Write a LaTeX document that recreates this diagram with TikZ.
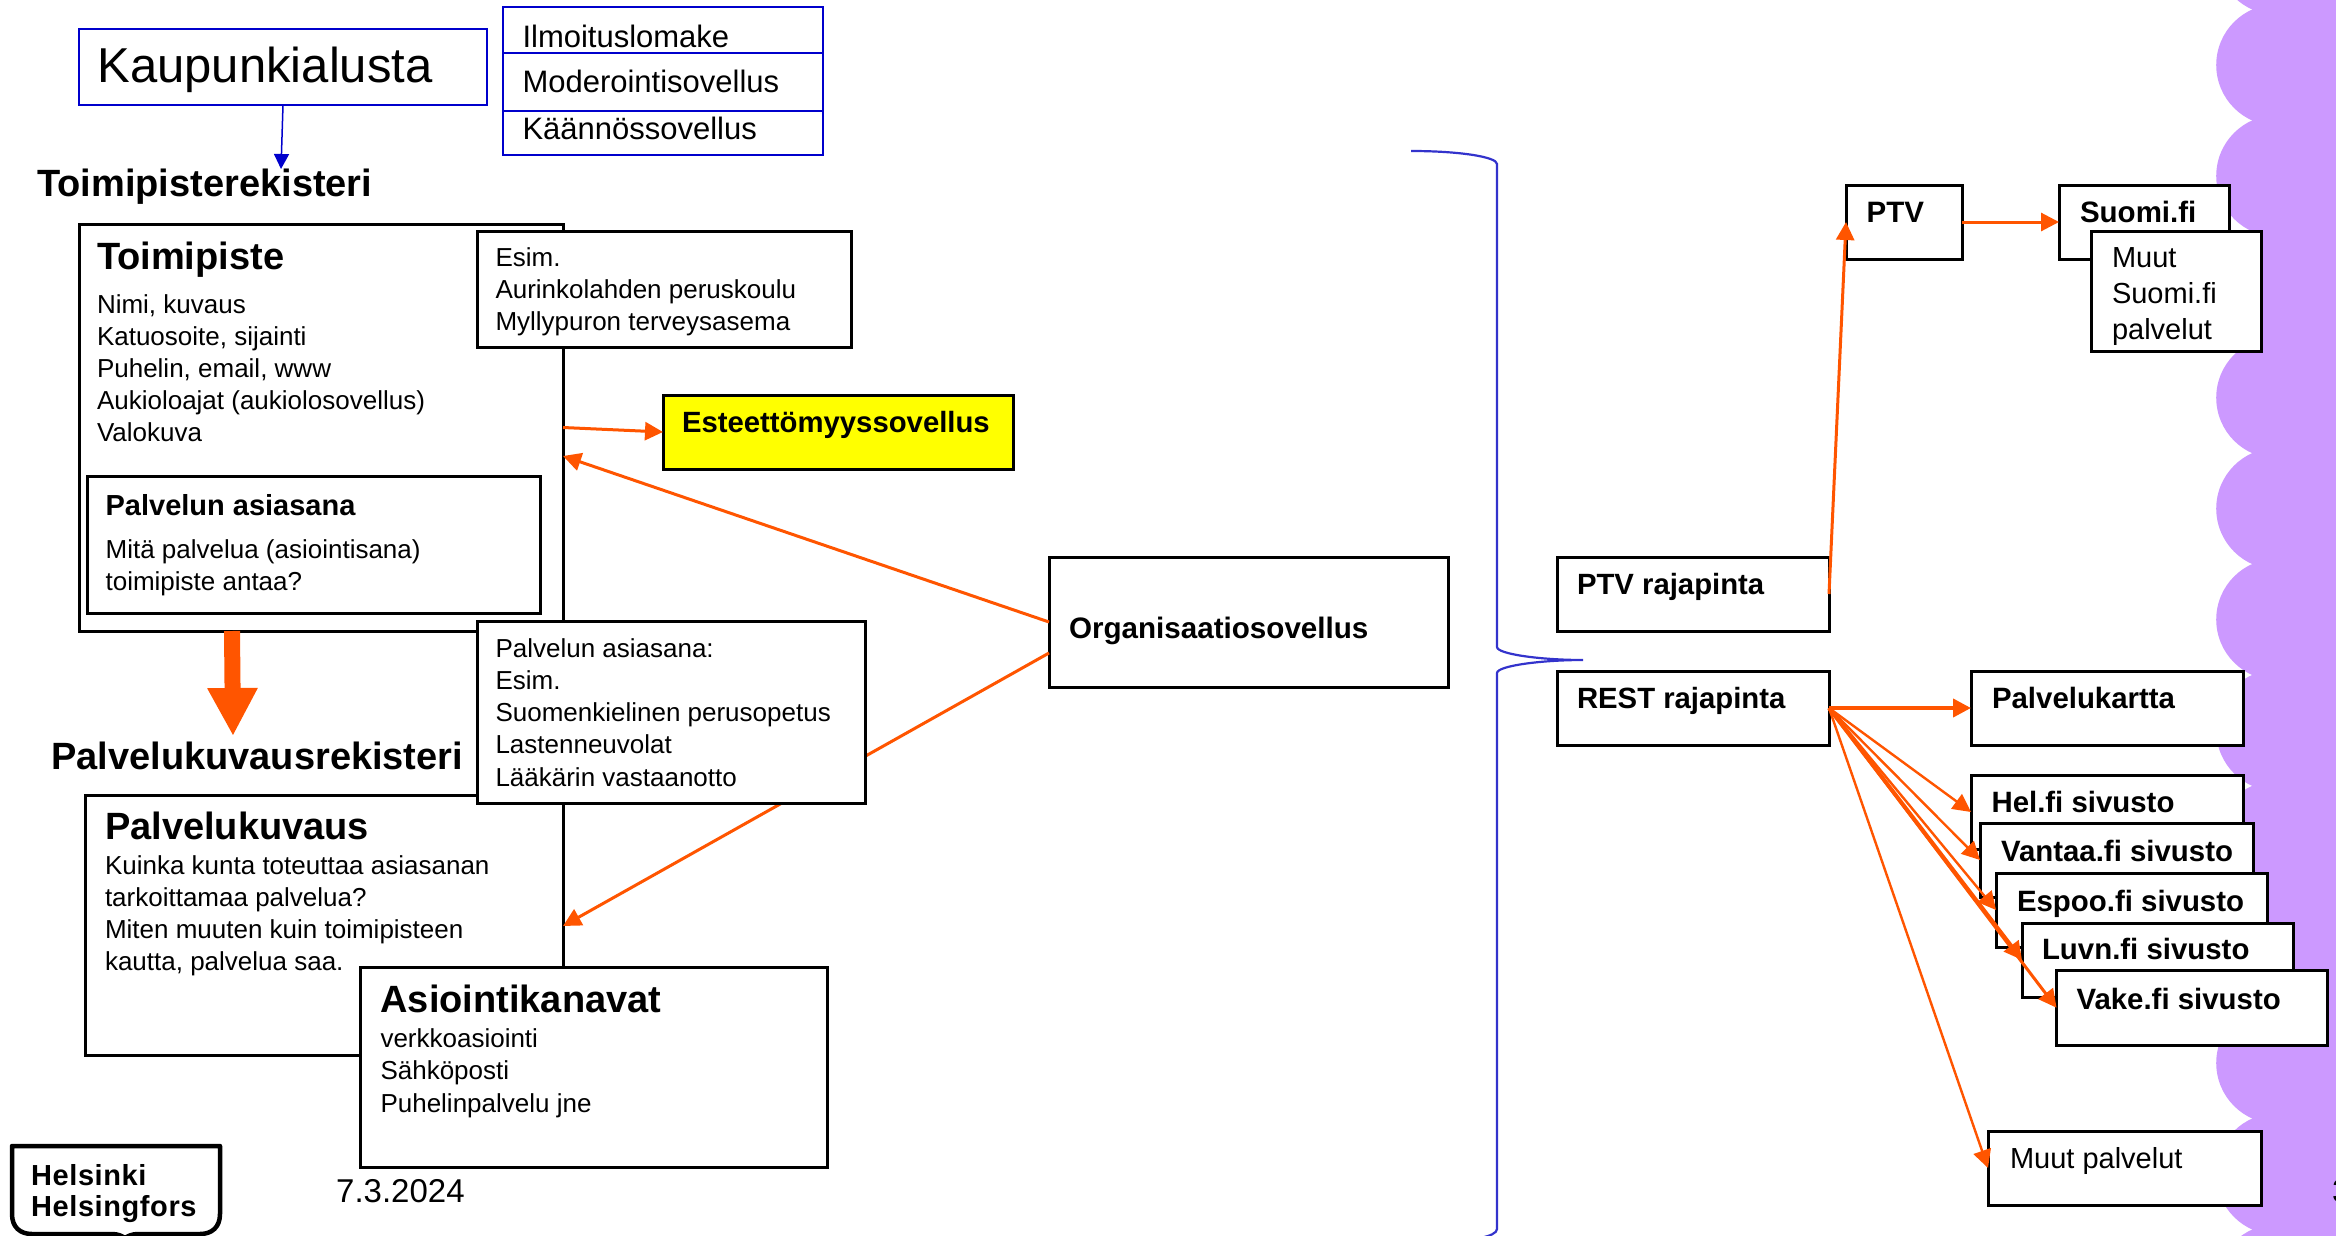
\documentclass[tikz,border=0pt]{standalone}
\usepackage{fontspec}
\setmainfont{Liberation Sans}
\newfontfamily\logofont[LetterSpace=2]{Liberation Sans}
\usetikzlibrary{arrows.meta,calc}
\definecolor{oline}{HTML}{FF5500}
\definecolor{bline}{HTML}{0000CC}
\definecolor{bracec}{HTML}{3333CC}
\definecolor{lilac}{HTML}{CC99FF}
\definecolor{hiyellow}{HTML}{FFFF00}
\newcommand\fs[2]{\fontsize{#1pt}{#2pt}\selectfont}
% width, height, left padding, first baseline below top, content
\newcommand\bxc[5]{\parbox[c][#2pt][t]{#1pt}{\raggedright\leftskip=#3pt\relax\rule{0pt}{#4pt}#5}}
\tikzset{
  box/.style={draw=black,line width=3pt,fill=white,inner sep=0pt,outer sep=0pt,anchor=north west},
  bluebox/.style={box,draw=bline,line width=2.5pt},
  head/.style={inner sep=0pt,anchor=base west,font=\fs{38}{44}\bfseries},
  free/.style={inner sep=0pt,anchor=base west},
  arr/.style={draw=oline,line width=3pt,-{Triangle[length=18pt,width=18pt,fill=oline]}},
  thinarr/.style={arr,line width=2.4pt},
  thickarr/.style={arr,line width=4pt},
  blarr/.style={draw=bline,line width=1.5pt,-{Triangle[length=15pt,width=15pt,fill=bline]}},
  bigarr/.style={draw=oline,line width=16pt,-{Triangle[length=48pt,width=47pt,fill=oline]}},
  bracel/.style={draw=bracec,line width=2.2pt}
}
\begin{document}
\begin{tikzpicture}[x=1pt,y=-1pt]
\useasboundingbox (0,0) rectangle (2336,1236);
% lilac scalloped band
\fill[lilac] (2252,0) rectangle (2336,1236);
\foreach \yy in {-46,65,175.9,286.8,397.7,508.6,619.5,730.4,841.3,952.2,1063,1174,1285}
  \fill[lilac] (2277,\yy) circle (60.8);
% brace
\draw[bracel] (1411,151) .. controls (1460,151) and (1497,157) .. (1497,164) -- (1497,647)
  .. controls (1497,654) and (1540,660) .. (1583,660)
  .. controls (1540,660) and (1497,666) .. (1497,673) -- (1497,1229)
  .. controls (1497,1233) and (1490,1236) .. (1480,1238);
% top left
\node[bluebox] (kaup) at (79,29) {\bxc{408}{76}{18.5}{54}{\fs{49}{54}Kaupunkialusta}};
\node[bluebox] (ilm) at (503,7) {\bxc{320}{46}{19.5}{41}{\fs{31}{36}Ilmoituslomake}};
\node[bluebox] (mod) at (503,53) {\bxc{320}{58}{19.5}{40}{\fs{31}{36}Moderointisovellus}};
\node[bluebox] (kaan) at (503,111) {\bxc{320}{44}{19.5}{28.5}{\fs{31}{36}Käännössovellus}};
% Toimipiste
\node[box] (toimi) at (79,224) {\bxc{484}{407}{18}{45.5}{{\fs{38}{38}\bfseries Toimipiste\par}\fs{26}{32}\vspace{11.5pt}Nimi, kuvaus\\Katuosoite, sijainti\\Puhelin, email, www\\Aukioloajat (aukiolosovellus)\\Valokuva}};
\node[box] (asia) at (87,476) {\bxc{453}{137}{18.6}{39}{{\fs{29}{30}\bfseries Palvelun asiasana\par}\fs{26}{32}\vspace{11pt}Mitä palvelua (asiointisana)\\toimipiste antaa?}};
\node[box] (esim) at (477,231) {\bxc{374}{116}{18.5}{35}{\fs{26}{32}Esim.\\Aurinkolahden peruskoulu\\Myllypuron terveysasema}};
\node[box,fill=hiyellow] (este) at (663,395) {\bxc{350}{74}{19}{37}{\fs{29.3}{34}\bfseries Esteettömyyssovellus}};
\node[box] (org) at (1049,557) {\bxc{399}{130}{20}{81}{\fs{29.6}{34}\bfseries Organisaatiosovellus}};
% Palvelukuvaus
\node[box] (kuv) at (85,795) {\bxc{478}{260}{20}{44.5}{{\fs{38}{38}\bfseries Palvelukuvaus\par}\fs{26}{32}\vspace{2.5pt}Kuinka kunta toteuttaa asiasanan\\tarkoittamaa palvelua?\\Miten muuten kuin toimipisteen\\kautta, palvelua saa.}};
% connectors running beneath the overlaid boxes
\coordinate (toimiin) at ($(toimi.south east)+(0,-175)$);
\coordinate (kuvin) at ($(kuv.north east)+(0,131)$);
\coordinate (orgup) at ($(org.west)$);
\coordinate (orgdn) at ($(org.west)+(0,31)$);
\draw[arr] (orgdn) -- (kuvin);
\draw[arr] (orgup) -- (toimiin);
\draw[arr] (toimi.east) -- (este.west);
\node[box] (palv) at (477,621) {\bxc{388}{182}{18.5}{36}{\fs{26}{32.3}Palvelun asiasana:\\Esim.\\Suomenkielinen perusopetus\\Lastenneuvolat\\Lääkärin vastaanotto}};
\node[box] (kan) at (360.5,967) {\bxc{466.5}{200}{20}{45}{{\fs{38}{38}\bfseries Asiointikanavat\par}\fs{26}{32.5}\vspace{2.5pt}verkkoasiointi\\Sähköposti\\Puhelinpalvelu jne}};
% headings
\coordinate (blt) at (281,169);
\draw[blarr] (kaup.south) -- (blt);
\node[head] (reg1) at (37,196) {Toimipisterekisteri};
\node[head] (reg2) at (51,769) {Palvelukuvausrekisteri};
\coordinate (bigs) at (232,631);
\coordinate (bige) at (233,736);
\draw[bigarr] (bigs) -- (bige);
% right side
\node[box] (ptvr) at (1557,557) {\bxc{272}{74}{20}{37}{\fs{29.3}{34}\bfseries PTV rajapinta}};
\node[box] (rest) at (1557,671) {\bxc{272}{74}{20}{37}{\fs{29.3}{34}\bfseries REST rajapinta}};
\node[box] (ptv) at (1846,185) {\bxc{116}{74}{20.7}{37}{\fs{29.5}{34}\bfseries PTV}};
\node[box] (suomi) at (2059,185) {\bxc{170}{74}{21}{37}{\fs{29.5}{34}\bfseries Suomi.fi}};
\node[box] (muuts) at (2091,231) {\bxc{170}{120}{21}{36}{\fs{29}{36}Muut\\Suomi.fi\\palvelut}};
\node[box] (kart) at (1971,671) {\bxc{272}{74}{21}{37}{\fs{29.4}{34}\bfseries Palvelukartta}};
\node[box] (hel) at (1971,775) {\bxc{272}{74}{20.5}{37}{\fs{29.4}{34}\bfseries Hel.fi sivusto}};
\node[box] (van) at (1980,823) {\bxc{273}{74}{21}{38}{\fs{29.4}{34}\bfseries Vantaa.fi sivusto}};
\node[box] (esp) at (1996,873) {\bxc{271}{74}{21}{38}{\fs{29.4}{34}\bfseries Espoo.fi sivusto}};
\node[box] (luv) at (2022,923) {\bxc{271}{74}{20}{36}{\fs{29.4}{34}\bfseries Luvn.fi sivusto}};
\node[box] (vak) at (2056.5,970.5) {\bxc{270.5}{74.5}{20}{38.5}{\fs{29.4}{34}\bfseries Vake.fi sivusto}};
\node[box] (muut) at (1988,1131) {\bxc{273}{74}{22}{37}{\fs{29}{34}Muut palvelut}};
\draw[arr] (ptvr.east) -- (ptv.west);
\draw[arr] (ptv.east) -- (suomi.west);
\draw[thickarr] (rest.east) -- (kart.west);
\draw[thinarr] (rest.east) -- (hel.west);
\draw[thinarr] (rest.east) -- (van.west);
\draw[thinarr] (rest.east) -- (esp.west);
\draw[thickarr] (rest.east) -- (luv.west);
\draw[arr] (rest.east) -- (vak.west);
\draw[thinarr] (rest.east) -- (muut.west);
% footer
\draw[line width=4.5pt,line join=round] (12,1146) -- (12,1214) .. controls (12,1227) and (20,1234) .. (32,1234) -- (112,1234) .. controls (118,1234) and (122,1236) .. (125,1238) .. controls (128,1236) and (132,1234) .. (138,1234) -- (200,1234) .. controls (212,1234) and (220,1227) .. (220,1214) -- (220,1146) -- cycle;
\node[free] (logo1) at (31,1185) {\fs{29}{31}\logofont\bfseries Helsinki};
\node[free] (logo2) at (31,1216) {\fs{29}{31}\logofont\bfseries Helsingfors};
\node[free] (date) at (336,1202) {\fs{33}{38}7.3.2024};
\node[free] (pnum) at (2332,1202) {\fs{33}{38}3};
\end{tikzpicture}
\end{document}
